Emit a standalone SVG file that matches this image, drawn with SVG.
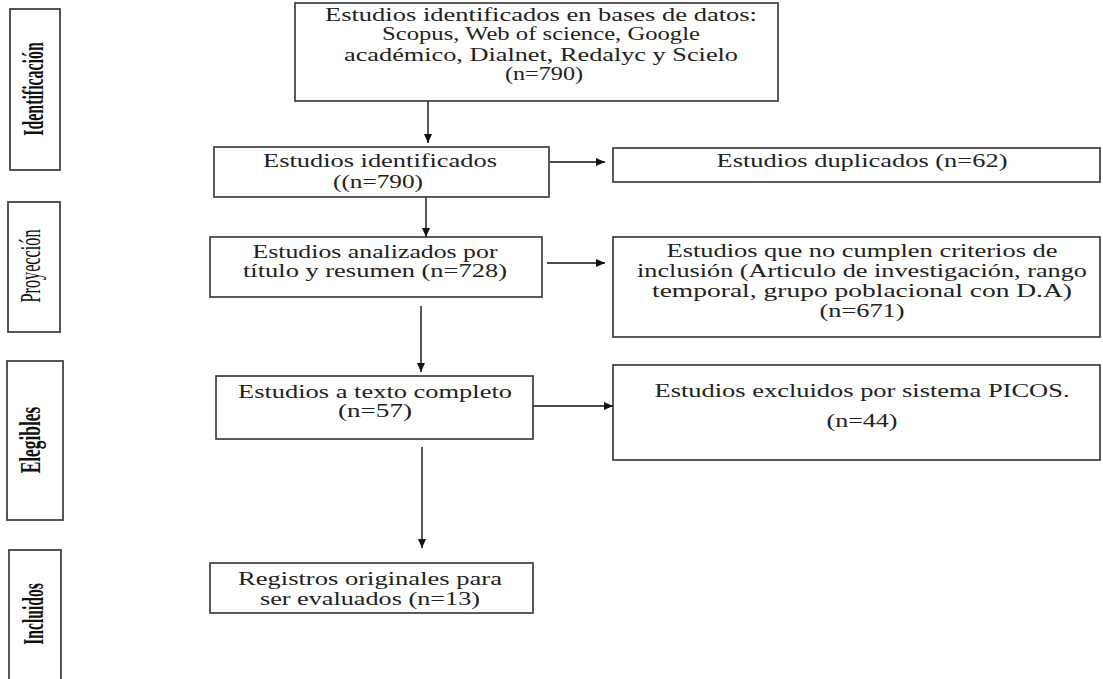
<svg xmlns="http://www.w3.org/2000/svg" width="1103" height="679" viewBox="0 0 1103 679">
<style>
.box{fill:#fff;stroke:#333;stroke-width:1.6}
.stage{fill:#fff;stroke:#444;stroke-width:1.8}
.t{font-family:"Liberation Serif","Times New Roman",serif;font-size:18px;fill:#222;text-anchor:middle}
.s{font-family:"Liberation Serif","Times New Roman",serif;fill:#111;text-anchor:middle;font-weight:bold}
.c{stroke:#111;stroke-width:1.4;fill:none;marker-end:url(#ah)}
</style>
<defs>
<marker id="ah" markerUnits="userSpaceOnUse" markerWidth="9" markerHeight="8" refX="9" refY="4" orient="auto">
<path d="M0,0 L9,4 L0,8 z" fill="#111"/>
</marker>
</defs>
<rect width="1103" height="679" fill="#fff"/>

<g id="stage-identificacion">
<rect class="stage" x="10" y="9" width="50" height="161"/>
<text class="s" font-size="30" transform="translate(43,89) rotate(-90) scale(0.53,1)">Identificación</text>
</g>
<g id="stage-proyeccion">
<rect class="stage" x="8" y="202" width="52" height="130"/>
<text class="s" font-size="29" style="font-weight:normal" transform="translate(40,266) rotate(-90) scale(0.56,1)">Proyección</text>
</g>
<g id="stage-elegibles">
<rect class="stage" x="7" y="361" width="56" height="159"/>
<text class="s" font-size="29" transform="translate(40,440) rotate(-90) scale(0.6,1)">Elegibles</text>
</g>
<g id="stage-incluidos">
<rect class="stage" x="9" y="550" width="52" height="132"/>
<text class="s" font-size="30" transform="translate(43,614) rotate(-90) scale(0.52,1)">Incluidos</text>
</g>

<g id="connectors">
<path class="c" d="M428,101 V143"/>
<path class="c" d="M550,162 H605"/>
<path class="c" d="M426,197 V237"/>
<path class="c" d="M547,263 H605"/>
<path class="c" d="M421,306 V372"/>
<path class="c" d="M533,406 H613"/>
<path class="c" d="M422,447 V548"/>
</g>

<g id="n-bases">
<rect class="box" x="295" y="3" width="483" height="98"/>
<text class="t" x="541" y="21" textLength="432" lengthAdjust="spacingAndGlyphs">Estudios identificados en bases de datos:</text>
<text class="t" x="541" y="40" textLength="318" lengthAdjust="spacingAndGlyphs">Scopus, Web of science, Google</text>
<text class="t" x="541" y="61" textLength="394" lengthAdjust="spacingAndGlyphs">académico, Dialnet, Redalyc y Scielo</text>
<text class="t" x="544" y="80" textLength="78" lengthAdjust="spacingAndGlyphs">(n=790)</text>
</g>
<g id="n-identificados">
<rect class="box" x="214" y="147" width="335" height="50"/>
<text class="t" x="380" y="167" textLength="234" lengthAdjust="spacingAndGlyphs">Estudios identificados</text>
<text class="t" x="378" y="188" textLength="90" lengthAdjust="spacingAndGlyphs">((n=790)</text>
</g>
<g id="n-duplicados">
<rect class="box" x="613" y="148" width="487" height="34"/>
<text class="t" x="862" y="167" textLength="291" lengthAdjust="spacingAndGlyphs">Estudios duplicados (n=62)</text>
</g>
<g id="n-analizados">
<rect class="box" x="210" y="237" width="332" height="60"/>
<text class="t" x="375" y="258" textLength="245" lengthAdjust="spacingAndGlyphs">Estudios analizados por</text>
<text class="t" x="375" y="277" textLength="264" lengthAdjust="spacingAndGlyphs">título y resumen (n=728)</text>
</g>
<g id="n-no-cumplen">
<rect class="box" x="613" y="237" width="487" height="100"/>
<text class="t" x="862" y="257" textLength="391" lengthAdjust="spacingAndGlyphs">Estudios que no cumplen criterios de</text>
<text class="t" x="862" y="277" textLength="450" lengthAdjust="spacingAndGlyphs">inclusión (Articulo de investigación, rango</text>
<text class="t" x="862" y="297" textLength="420" lengthAdjust="spacingAndGlyphs">temporal, grupo poblacional con D.A)</text>
<text class="t" x="862" y="317" textLength="85" lengthAdjust="spacingAndGlyphs">(n=671)</text>
</g>
<g id="n-texto-completo">
<rect class="box" x="216" y="376" width="317" height="63"/>
<text class="t" x="375" y="398" textLength="274" lengthAdjust="spacingAndGlyphs">Estudios a texto completo</text>
<text class="t" x="375" y="417" textLength="74" lengthAdjust="spacingAndGlyphs">(n=57)</text>
</g>
<g id="n-excluidos">
<rect class="box" x="613" y="365" width="487" height="95"/>
<text class="t" x="862" y="397" textLength="415" lengthAdjust="spacingAndGlyphs">Estudios excluidos por sistema PICOS.</text>
<text class="t" x="862" y="427" textLength="71" lengthAdjust="spacingAndGlyphs">(n=44)</text>
</g>
<g id="n-registros">
<rect class="box" x="210" y="563" width="323" height="50"/>
<text class="t" x="370" y="585" textLength="264" lengthAdjust="spacingAndGlyphs">Registros originales para</text>
<text class="t" x="370" y="605" textLength="220" lengthAdjust="spacingAndGlyphs">ser evaluados (n=13)</text>
</g>
</svg>
